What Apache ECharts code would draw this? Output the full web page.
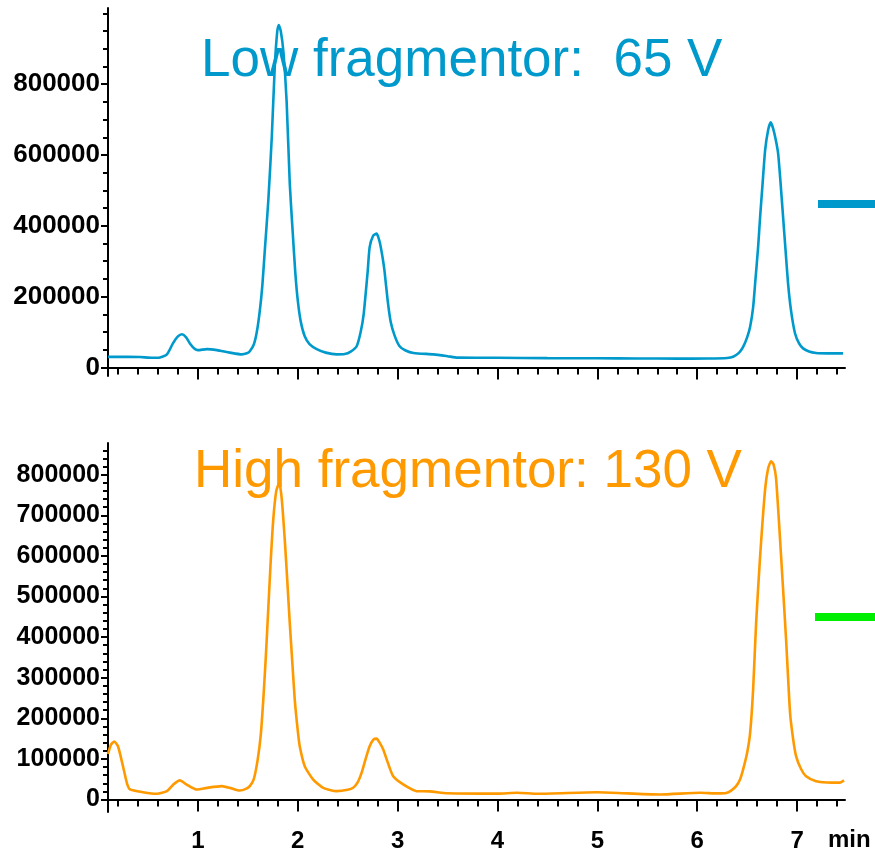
<!DOCTYPE html>
<html>
<head>
<meta charset="utf-8">
<script src="https://cdn.jsdelivr.net/npm/echarts@6/dist/echarts.min.js"></script>
<style>
  html, body { margin: 0; padding: 0; background: #fff; }
  #chart { width: 875px; height: 856px; }
</style>
</head>
<body>
<div id="chart"></div>
<script>
// Retention time (min) and detector response for the low-fragmentor run
const lowTimes = [0.10, 0.30, 0.42, 0.55, 0.62, 0.69, 0.75, 0.80, 0.84, 0.88, 0.92, 0.97, 1.00, 1.09, 1.19, 1.32, 1.44, 1.49, 1.52, 1.56,
  1.59, 1.62, 1.645, 1.67, 1.705, 1.74, 1.77, 1.795, 1.81, 1.83, 1.857, 1.889, 1.92, 1.95, 1.975, 2.00, 2.03, 2.07, 2.12, 2.19,
  2.28, 2.39, 2.47, 2.53, 2.59, 2.63, 2.66, 2.70, 2.72, 2.755, 2.79, 2.82, 2.85, 2.87, 2.90, 2.93, 2.97, 3.02, 3.08, 3.16,
  3.36, 3.50, 3.60, 4.00, 4.50, 5.00, 5.40, 5.80, 6.10, 6.30, 6.36, 6.42, 6.46, 6.50, 6.53, 6.56, 6.58, 6.61, 6.63, 6.655,
  6.68, 6.71, 6.737, 6.76, 6.785, 6.81, 6.835, 6.86, 6.885, 6.91, 6.94, 6.98, 7.02, 7.06, 7.12, 7.19, 7.30, 7.46];
const lowSignal = [30000, 30000, 29500, 27500, 28500, 37000, 68000, 88000, 94000, 86000, 68000, 52000, 49000, 52000, 49000, 42000, 37000, 40000, 46000, 65000,
  100000, 160000, 230000, 330000, 470000, 650000, 850000, 950000, 967000, 950000, 890000, 750000, 520000, 380000, 270000, 190000, 130000, 88000, 65000, 52000,
  42000, 37000, 38000, 45000, 60000, 100000, 150000, 270000, 340000, 372000, 378000, 355000, 310000, 270000, 190000, 130000, 90000, 60000, 48000, 41000,
  37000, 32000, 28000, 27500, 26500, 26000, 25500, 25000, 25500, 27000, 30500, 42000, 58000, 85000, 115000, 170000, 237000, 340000, 425000, 520000,
  613000, 670000, 692000, 675000, 645000, 605000, 520000, 425000, 330000, 237000, 160000, 96000, 68000, 54000, 45000, 41000, 40000, 40000];

// Retention time (min) and detector response for the high-fragmentor run
const highTimes = [0.10, 0.13, 0.163, 0.20, 0.25, 0.29, 0.32, 0.45, 0.59, 0.69, 0.76, 0.82, 0.88, 0.99, 1.09, 1.24, 1.33, 1.42, 1.48, 1.52,
  1.56, 1.60, 1.63, 1.655, 1.68, 1.705, 1.73, 1.755, 1.785, 1.815, 1.84, 1.87, 1.895, 1.92, 1.945, 1.97, 2.00, 2.02, 2.07, 2.155,
  2.255, 2.39, 2.50, 2.555, 2.60, 2.64, 2.68, 2.72, 2.76, 2.79, 2.82, 2.856, 2.90, 2.956, 3.056, 3.19, 3.32, 3.50, 4.00, 4.20,
  4.40, 5.00, 5.30, 5.63, 6.03, 6.20, 6.29, 6.34, 6.39, 6.43, 6.46, 6.50, 6.53, 6.56, 6.59, 6.63, 6.68, 6.71, 6.74, 6.765,
  6.79, 6.84, 6.89, 6.93, 6.96, 6.99, 7.04, 7.09, 7.19, 7.30, 7.43, 7.47];
const highSignal = [112000, 135000, 143000, 131000, 82000, 40000, 25000, 18000, 14000, 20500, 38000, 47000, 38000, 24600, 28700, 33000, 28000, 22000, 26000, 33000,
  50000, 100000, 160000, 246000, 350000, 470000, 590000, 690000, 760000, 780000, 740000, 640000, 540000, 435000, 340000, 246000, 170000, 131000, 82000, 49000,
  28700, 20500, 24000, 29000, 42000, 66000, 100000, 131000, 148000, 150000, 140000, 123000, 92000, 57000, 37000, 20500, 20000, 15500, 14500, 16500,
  14000, 18000, 15000, 12300, 16500, 15000, 16000, 22000, 33000, 50000, 74000, 115000, 164000, 271000, 435000, 599000, 764000, 815000, 833000, 825000,
  790000, 599000, 394000, 213000, 150000, 107000, 75000, 57000, 45000, 42000, 41500, 47000];

// Tick positions
const timeMajor = [1, 2, 3, 4, 5, 6, 7];
const timeMinor = [0.2, 0.4, 0.6, 0.8, 1.2, 1.4, 1.6, 1.8, 2.2, 2.4, 2.6, 2.8, 3.2, 3.4, 3.6, 3.8,
  4.2, 4.4, 4.6, 4.8, 5.2, 5.4, 5.6, 5.8, 6.2, 6.4, 6.6, 6.8, 7.2, 7.4];
const lowLabels = [0, 200000, 400000, 600000, 800000];
const lowMinor = [50000, 100000, 150000, 250000, 300000, 350000, 450000, 500000, 550000, 650000, 700000, 750000, 850000, 900000, 950000, 1000000];
const highLabels = [0, 100000, 200000, 300000, 400000, 500000, 600000, 700000, 800000];
const highMinor = [20000, 40000, 60000, 80000, 120000, 140000, 160000, 180000, 220000, 240000, 260000, 280000,
  320000, 340000, 360000, 380000, 420000, 440000, 460000, 480000, 520000, 540000, 560000, 580000,
  620000, 640000, 660000, 680000, 720000, 740000, 760000, 780000, 820000, 840000, 860000];

const BLUE = '#0099cc';
const ORANGE = '#ff9900';
const FONT = 'Liberation Sans, Arial, sans-serif';

const pairs = (xs, ys) => xs.map((x, i) => [x, ys[i]]);
const plain = (v) => String(Math.round(v));

function timeAxis(grid, values, len, labels) {
  return {
    type: 'value', gridIndex: grid, position: 'bottom', min: 0.1, max: 7.48,
    axisLine: { show: len > 10, lineStyle: { color: '#000', width: 2 } },
    axisTick: { show: true, customValues: values, length: len, lineStyle: { color: '#000', width: 2 } },
    axisLabel: labels ? { show: true, customValues: values, margin: 17, color: '#000',
      fontFamily: FONT, fontWeight: 'bold', fontSize: 24, formatter: plain } : { show: false },
    splitLine: { show: false }
  };
}

function signalAxis(grid, min, max, values, len, labels, size) {
  return {
    type: 'value', gridIndex: grid, position: 'left', min: min, max: max,
    axisLine: { show: len > 5, lineStyle: { color: '#000', width: 2 } },
    axisTick: { show: true, customValues: values, length: len, lineStyle: { color: '#000', width: 2 } },
    axisLabel: labels ? { show: true, customValues: values, margin: 8, color: '#000',
      fontFamily: FONT, fontWeight: 'bold', fontSize: size, formatter: plain } : { show: false },
    splitLine: { show: false }
  };
}

const chart = echarts.init(document.getElementById('chart'), null, { renderer: 'canvas' });
chart.setOption({
  animation: false,
  backgroundColor: '#fff',
  grid: [
    { left: 108, right: 30, top: 8, height: 368 },
    { left: 108, right: 30, top: 443, height: 369 }
  ],
  xAxis: [
    timeAxis(0, timeMajor, 12, false),
    timeAxis(0, timeMinor, 7, false),
    timeAxis(1, timeMajor, 12, true),
    timeAxis(1, timeMinor, 7, false)
  ],
  yAxis: [
    signalAxis(0, -24000, 1015000, lowLabels, 7, true, 26),
    signalAxis(0, -24000, 1015000, lowMinor, 5, false),
    signalAxis(1, -30800, 878000, highLabels, 7, true, 25),
    signalAxis(1, -30800, 878000, highMinor, 5, false)
  ],
  series: [
    {
      name: 'Low fragmentor', type: 'line', xAxisIndex: 0, yAxisIndex: 0,
      data: pairs(lowTimes, lowSignal), showSymbol: false, smooth: 0.2,
      lineStyle: { color: BLUE, width: 2.6 }, itemStyle: { color: BLUE }, z: 3
    },
    {
      name: 'High fragmentor', type: 'line', xAxisIndex: 2, yAxisIndex: 2,
      data: pairs(highTimes, highSignal), showSymbol: false, smooth: 0.2,
      lineStyle: { color: ORANGE, width: 2.6 }, itemStyle: { color: ORANGE }, z: 3
    }
  ],
  graphic: [
    { type: 'text', left: 201, top: 35, z: 10,
      style: { text: 'Low fragmentor:  65 V', fill: BLUE, font: '53px ' + FONT } },
    { type: 'text', left: 194, top: 446, z: 10,
      style: { text: 'High fragmentor: 130 V', fill: ORANGE, font: '53px ' + FONT } },
    { type: 'rect', shape: { x: 818, y: 200, width: 57, height: 8 }, style: { fill: BLUE } },
    { type: 'rect', shape: { x: 815, y: 613, width: 60, height: 8 }, style: { fill: '#00ee00' } },
    { type: 'text', left: 828, top: 828, z: 10,
      style: { text: 'min', fill: '#000', font: 'bold 24px ' + FONT } }
  ]
});
</script>
</body>
</html>
